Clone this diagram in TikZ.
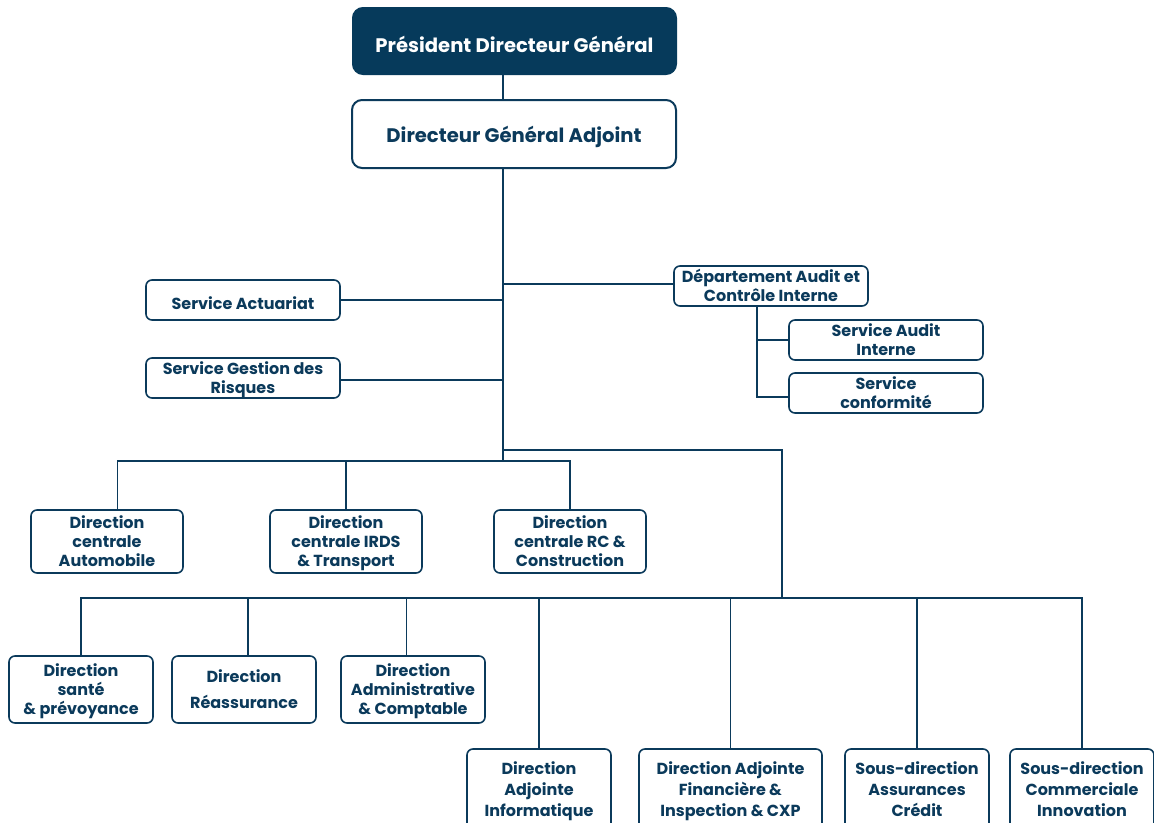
\documentclass[tikz,border=0pt]{standalone}
\usepackage{fontspec}
\setmainfont{Poppins}
\definecolor{navy}{HTML}{0B3A5B}
\definecolor{navyfill}{HTML}{063A5B}
\newcommand{\lowered}[1]{\raisebox{-2.2pt}[\height][\depth]{#1}}
\newcommand{\ml}[1]{\raisebox{-1.6pt}[\height][\depth]{\begin{tabular}{@{}c@{}}#1\end{tabular}}}
\begin{document}
\begin{tikzpicture}[x=0.75pt,y=-0.75pt,
  box/.style={draw=navy, line width=1.2pt, rounded corners=4.5pt, fill=white, text=navy,
    font=\fontsize{12}{14.4}\selectfont\bfseries, align=center, inner sep=0pt},
  sz/.style 2 args={minimum width=#1*0.75pt, minimum height=#2*0.75pt},
  topbox/.style={box, line width=1.5pt, rounded corners=7.5pt, font=\fontsize{14.7}{17}\selectfont\bfseries},
  tall/.style={font=\fontsize{12}{15.8}\selectfont\bfseries},
  link/.style={draw=navy, line width=1.1pt}]
\useasboundingbox (0,0) rectangle (1154,822);
\clip (0,0) rectangle (1154,822);
% coordinates of the trunk and buses
\coordinate (t1) at (503,461);
\coordinate (b2) at (782,450);
\coordinate (b3) at (782,598);
\coordinate (a1) at (757,306);
% nodes
\node[topbox, sz={323}{66}, fill=navyfill, draw=navyfill, text=white] (pdg) at (514.5,41) {\lowered{Président Directeur Général}};
\node[topbox, sz={324}{68}] (dga) at (514,134) {\lowered{Directeur Général Adjoint}};
\node[box, sz={194}{40}] (act) at (243,300) {\lowered{Service Actuariat}};
\node[box, sz={194}{40}] (risk) at (243,378) {\ml{Service Gestion des\\Risques}};
\node[box, sz={194}{40}] (audit) at (771,286) {\ml{Département Audit et\\Contrôle Interne}};
\node[box, sz={194}{40}] (sai) at (886,340) {\ml{Service Audit\\Interne}};
\node[box, sz={194}{40}] (conf) at (886,393) {\ml{Service\\conformité}};
\node[box, sz={152}{63}] (auto) at (107,541.5) {\ml{Direction\\centrale\\Automobile}};
\node[box, sz={152}{63}] (irds) at (346,541.5) {\ml{Direction\\centrale IRDS\\\& Transport}};
\node[box, sz={152}{63}] (rc) at (570,541.5) {\ml{Direction\\centrale RC \&\\Construction}};
\node[box, sz={144}{67}] (sante) at (81,689.5) {\ml{Direction\\santé\\\& prévoyance}};
\node[box, sz={144}{67}] (reass) at (244,689.5) {\ml{Direction\\[4.5pt]Réassurance}};
\node[box, sz={144}{67}] (admin) at (413,689.5) {\ml{Direction\\Administrative\\\& Comptable}};
\node[box, tall, sz={144}{80}] (info) at (539,789) {\ml{Direction\\Adjointe\\Informatique}};
\node[box, tall, sz={183}{80}] (fin) at (730.5,789) {\ml{Direction Adjointe\\Financière \&\\Inspection \& CXP}};
\node[box, tall, sz={144}{80}] (assur) at (917,789) {\ml{Sous-direction\\Assurances\\Crédit}};
\node[box, tall, sz={144}{80}] (comm) at (1082,789) {\ml{Sous-direction\\Commerciale\\Innovation}};
% connectors
\draw[link] (pdg.south -| t1) -- (dga.north -| t1);
\draw[link] (dga.south -| t1) -- (t1);
\draw[link] (act.east) -- (act.east -| t1);
\draw[link] ([yshift=-1.5]risk.east) -- ([yshift=-1.5]risk.east -| t1);
\draw[link] ([yshift=1.5]audit.west) -- ([yshift=1.5]audit.west -| t1);
\draw[link] (audit.south -| a1) |- (sai.west);
\draw[link] (audit.south -| a1) |- ([yshift=-3]conf.west);
\draw[link] ([xshift=8]auto.north) |- (t1) -| (rc.north);
\draw[link] (irds.north) -- (irds.north |- t1);
\draw[link] (b2 -| t1) -- (b2) -- (b3);
\draw[link] (sante.north) |- (comm.north |- b3) -- (comm.north);
\draw[link] ([xshift=3]reass.north) -- ([xshift=3]reass.north |- b3);
\draw[link] ([xshift=-5]admin.north) -- ([xshift=-5]admin.north |- b3);
\draw[link] (info.north) -- (info.north |- b3);
\draw[link] (fin.north) -- (fin.north |- b3);
\draw[link] (assur.north) -- (assur.north |- b3);
\end{tikzpicture}
\end{document}
